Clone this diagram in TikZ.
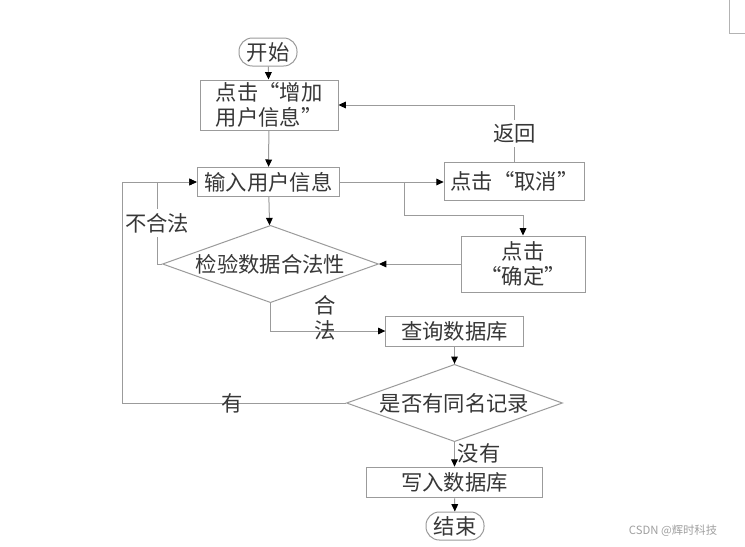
\documentclass[tikz,border=0pt]{standalone}
\usepackage{fontspec}
\setmainfont{Noto Sans CJK SC}
\usetikzlibrary{arrows.meta,calc,shapes.geometric,positioning}
\definecolor{flowline}{RGB}{155,155,155}
\definecolor{flowtext}{RGB}{55,55,55}
\definecolor{marktext}{RGB}{160,160,160}

\begin{document}
\begin{tikzpicture}[x=0.75pt,y=-0.75pt,
  font=\fontsize{16}{19}\selectfont,
  every node/.style={text=flowtext},
  stepbox/.style={draw=flowline,line width=0.75pt,inner sep=0pt,align=center},
  termbox/.style={draw=flowline,line width=0.75pt,rounded corners=10pt,inner sep=0pt,
    minimum width=43.5pt,minimum height=21pt},
  testbox/.style={draw=flowline,line width=0.75pt,diamond,aspect=2.8,inner sep=0pt,
    minimum width=162pt,minimum height=58pt},
  arr/.style={draw=flowline,line width=0.75pt,-{Triangle[length=5.5pt,width=5pt,color=black]}},
  lbl/.style={inner sep=1pt,align=center}]

%% ── canvas ──────────────────────────────────────────────────────────────────
\useasboundingbox (0,0) rectangle (745,546);
\fill[white] (0,0) rectangle (745,546);
\draw[marktext!80,line width=0.6pt] (729,0) -- (729,33) -- (745,33);

%% ── nodes ───────────────────────────────────────────────────────────────────
\node[termbox] (start) at (268,52) {开始};
\node[stepbox,minimum width=103.5pt,minimum height=37.5pt] (addinfo) at (269,105)
  {点击“增加\\用户信息”};
\node[stepbox,minimum width=107pt,minimum height=22pt] (input) at (268.5,182)
  {输入用户信息};
\node[stepbox,minimum width=105.5pt,minimum height=28.5pt] (cancel) at (514.5,181)
  {点击“取消”};
\node[stepbox,minimum width=93pt,minimum height=42pt] (confirm) at (523,264)
  {点击\\“确定”};
\node[testbox] (check) at (270.5,264) {检验数据合法性};
\node[stepbox,minimum width=103pt,minimum height=22.5pt] (query) at (454.5,331)
  {查询数据库};
\node[testbox] (dup) at (454.5,403) {是否有同名记录};
\node[stepbox,minimum width=132.5pt,minimum height=23pt] (write) at (454.5,482.5)
  {写入数据库};
\node[termbox] (stop) at (455,526) {结束};

%% ── connectors ──────────────────────────────────────────────────────────────
\draw[arr] (start) -- (addinfo);
\draw[arr] (addinfo) -- (input);
\draw[arr] (input) -- (check);
\draw[arr] (input.east) -- (input.east -| cancel.west);
% branch to confirm
\coordinate (fork) at (404,182);
\draw[arr] (fork) -- (404,215) -| (confirm.north);
\draw[arr] (cancel.north) |- node[lbl,pos=0.25,fill=white,inner sep=3pt]{返回} (addinfo.east);
\draw[arr] (confirm.west) -- (confirm.west -| check.east);
% not valid
\coordinate (bad) at (157,264);
\draw[arr] (check.west) -- (bad) |- node[lbl,pos=0.25,fill=white,inner sep=3pt]{不合法} (input.west);
% valid
\draw[arr] (check.south) |- (query.west);
\node[lbl] (ok) at (325,318) {合\\法};
\draw[arr] (query) -- (dup);
% duplicate
\coordinate (again) at (122,403);
\draw[arr] (dup.west) -- node[lbl,pos=0.51]{有} (again) |- (input.west);
\draw[arr] (dup) -- node[lbl,right=1pt,pos=0.45]{没有} (write);
\draw[arr] (write) -- (stop);

%% ── watermark ───────────────────────────────────────────────────────────────
\node[text=marktext,font=\fontsize{8.5}{9}\selectfont] (mark) at (673,531) {CSDN @辉时科技};

\end{tikzpicture}
\end{document}
